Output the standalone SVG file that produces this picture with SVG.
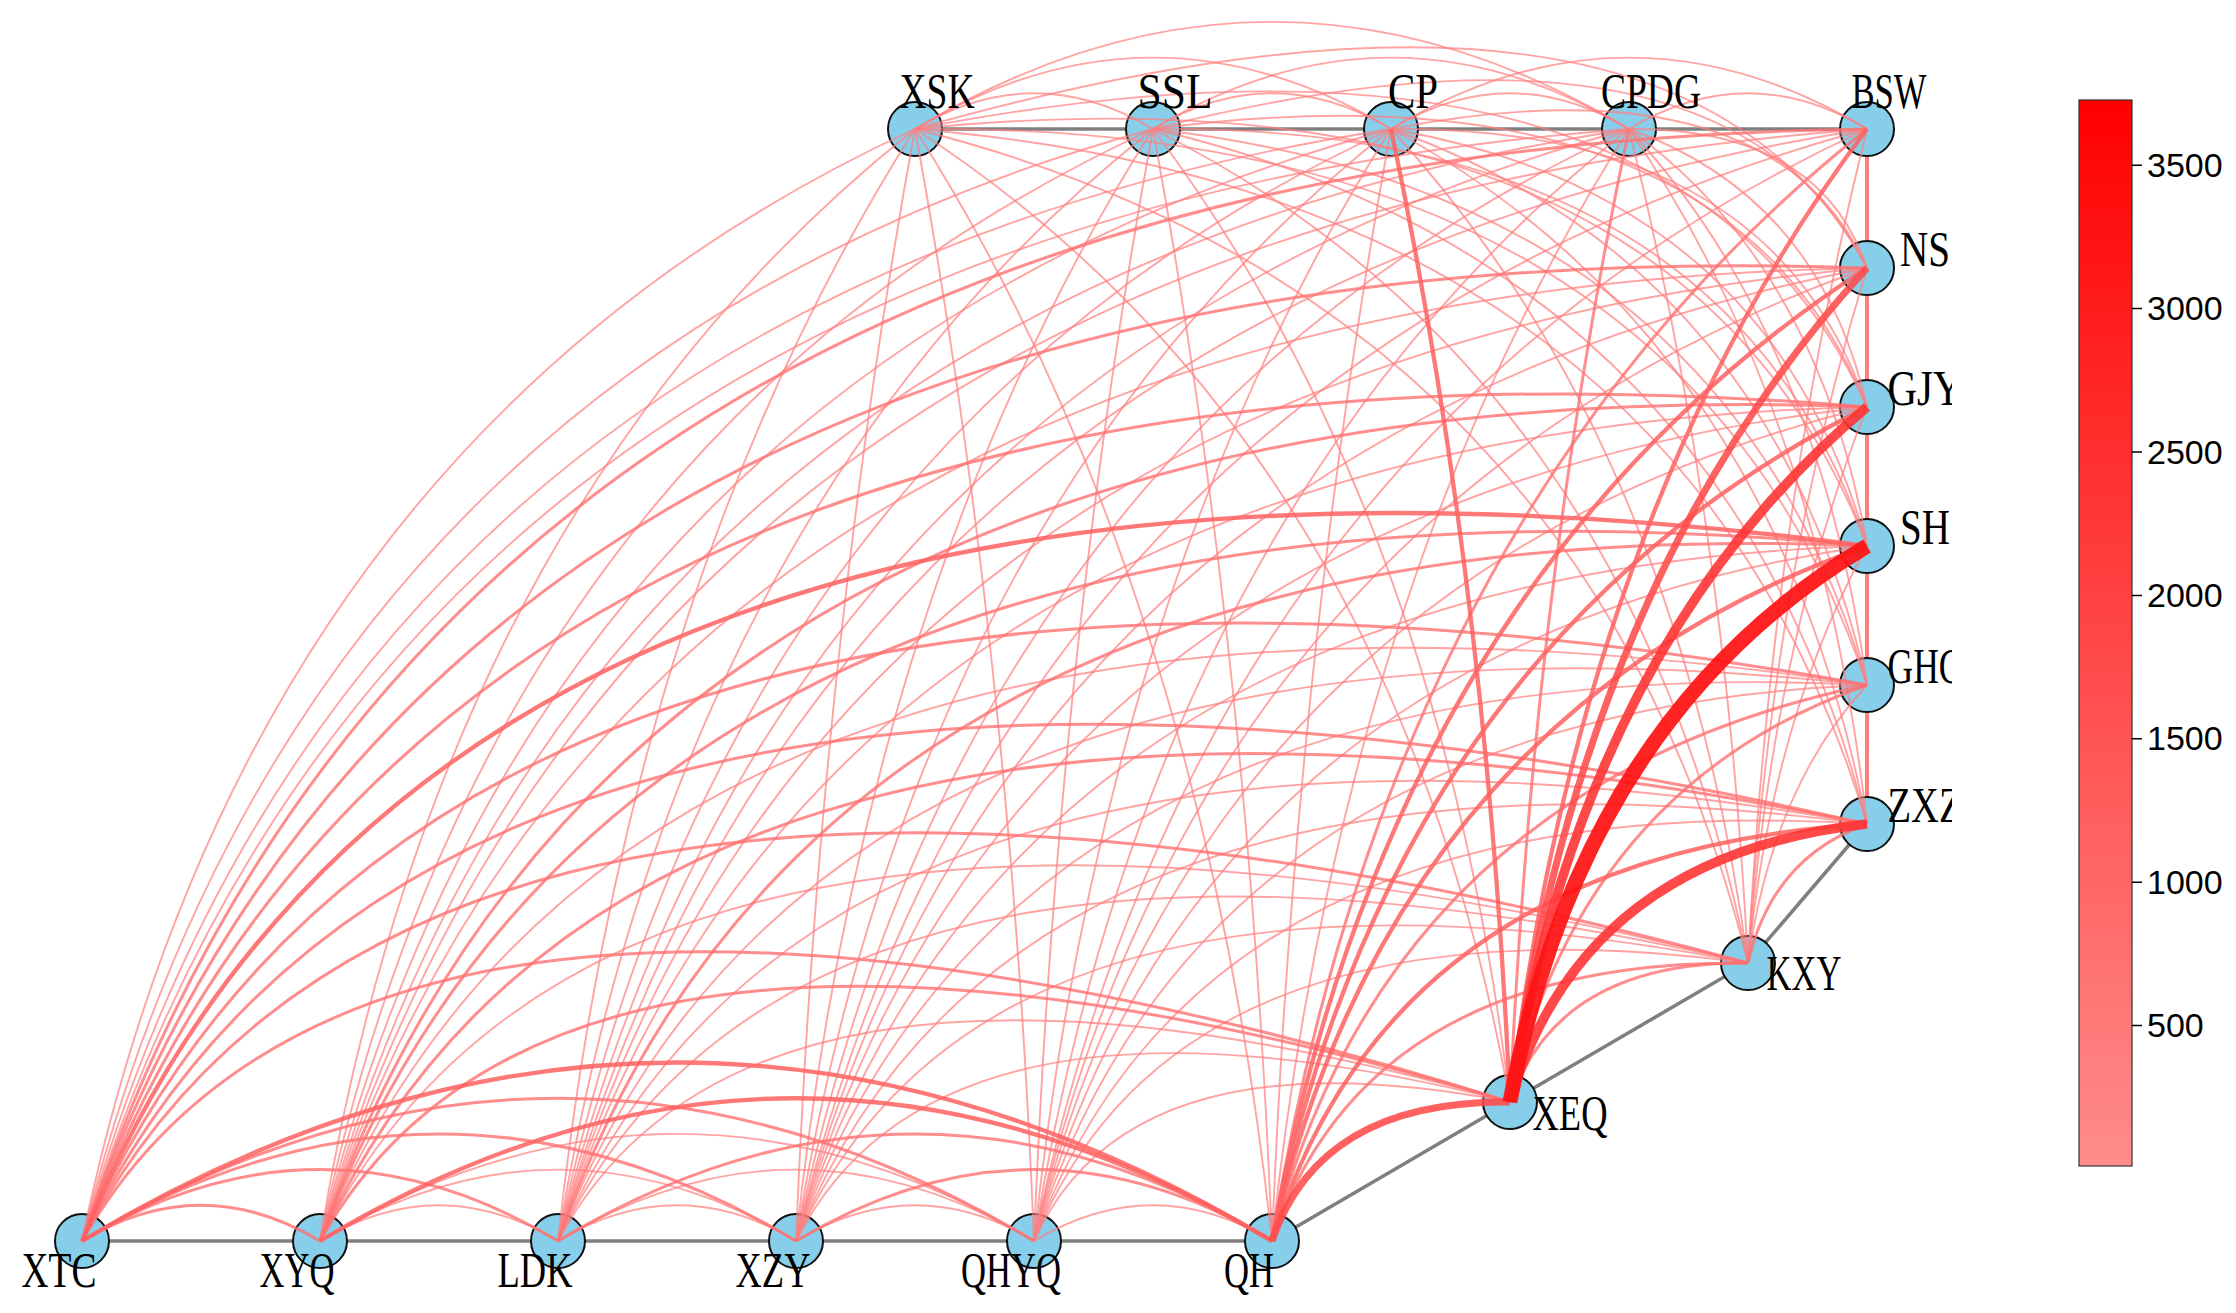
<svg xmlns="http://www.w3.org/2000/svg" width="2236" height="1313" viewBox="0 0 2236 1313">
<style>
.bg{fill:#fff}
.path{fill:none;stroke:#7f7f7f;stroke-width:3.5}
.col{fill:none;stroke:#ff7f7f;stroke-width:4}
#edges path{fill:none;stroke-linecap:butt}
.t1{stroke:#ff8080;stroke-width:1.9;stroke-opacity:.72}
.t2{stroke:#ff7070;stroke-width:3;stroke-opacity:.8}
.t3{stroke:#ff6060;stroke-width:4.3;stroke-opacity:.85}
.t4{stroke:#ff4a4a;stroke-width:7;stroke-opacity:.88}
.t5{stroke:#ff3434;stroke-width:9.5;stroke-opacity:.9}
.t6{stroke:#ff1212;stroke-width:15;stroke-opacity:.93}
.node circle{fill:#87ceeb;stroke:#111;stroke-width:2}
.lbl{font-family:"Liberation Serif",serif;font-size:50px;fill:#000;text-anchor:middle}
.tick{stroke:#000;stroke-width:1.5}
.tl{font-family:"Liberation Sans",Arial,sans-serif;font-size:34px;fill:#000}
</style>
<defs>
<linearGradient id="cmap" x1="0" y1="1" x2="0" y2="0">
<stop offset="0" stop-color="#ff8c8c"/>
<stop offset="1" stop-color="#ff0000"/>
</linearGradient>
<clipPath id="ax"><rect x="0" y="0" width="1952" height="1313"/></clipPath>
</defs>
<rect class="bg" width="2236" height="1313"/>
<g id="path-lines">
<path class="path" d="M82 1241H1272L1510 1102L1748 963L1867 824"/>
<path class="path" d="M1867 129H915"/>
<path class="col" d="M1867 824V129"/>
</g>
<g id="nodes">
<g id="n-XTC" class="node"><circle cx="82" cy="1241" r="27"/></g>
<g id="n-XYQ" class="node"><circle cx="320" cy="1241" r="27"/></g>
<g id="n-LDK" class="node"><circle cx="558" cy="1241" r="27"/></g>
<g id="n-XZY" class="node"><circle cx="796" cy="1241" r="27"/></g>
<g id="n-QHYQ" class="node"><circle cx="1034" cy="1241" r="27"/></g>
<g id="n-QH" class="node"><circle cx="1272" cy="1241" r="27"/></g>
<g id="n-XEQ" class="node"><circle cx="1510" cy="1102" r="27"/></g>
<g id="n-KXY" class="node"><circle cx="1748" cy="963" r="27"/></g>
<g id="n-ZXZ" class="node"><circle cx="1867" cy="824" r="27"/></g>
<g id="n-GHC" class="node"><circle cx="1867" cy="685" r="27"/></g>
<g id="n-SH" class="node"><circle cx="1867" cy="546" r="27"/></g>
<g id="n-GJY" class="node"><circle cx="1867" cy="407" r="27"/></g>
<g id="n-NS" class="node"><circle cx="1867" cy="268" r="27"/></g>
<g id="n-BSW" class="node"><circle cx="1867" cy="129" r="27"/></g>
<g id="n-CPDG" class="node"><circle cx="1629" cy="129" r="27"/></g>
<g id="n-CP" class="node"><circle cx="1391" cy="129" r="27"/></g>
<g id="n-SSL" class="node"><circle cx="1153" cy="129" r="27"/></g>
<g id="n-XSK" class="node"><circle cx="915" cy="129" r="27"/></g>
</g>
<g id="edges">
<g class="t1">
<path d="M82 1241Q248.6 435.1 915 129"/>
<path d="M82 1241Q296.2 363.7 1153 129"/>
<path d="M82 1241Q343.8 292.3 1391 129"/>
<path d="M82 1241Q391.4 220.9 1629 129"/>
<path d="M320 1241Q439 1169.6 558 1241"/>
<path d="M320 1241Q558 1098.2 796 1241"/>
<path d="M320 1241Q439 506.5 915 129"/>
<path d="M320 1241Q677 1026.8 1034 1241"/>
<path d="M320 1241Q486.6 435.1 1153 129"/>
<path d="M320 1241Q534.2 363.7 1391 129"/>
<path d="M320 1241Q581.8 292.3 1629 129"/>
<path d="M320 1241Q605.6 673.6 1748 963"/>
<path d="M320 1241Q629.4 498.9 1867 685"/>
<path d="M320 1241Q629.4 290.4 1867 268"/>
<path d="M320 1241Q629.4 220.9 1867 129"/>
<path d="M558 1241Q677 1169.6 796 1241"/>
<path d="M558 1241Q629.4 577.9 915 129"/>
<path d="M558 1241Q796 1098.2 1034 1241"/>
<path d="M558 1241Q677 506.5 1153 129"/>
<path d="M558 1241Q724.6 435.1 1391 129"/>
<path d="M558 1241Q748.4 885.9 1510 1102"/>
<path d="M558 1241Q772.2 363.7 1629 129"/>
<path d="M558 1241Q796 745 1748 963"/>
<path d="M558 1241Q819.8 639.8 1867 824"/>
<path d="M558 1241Q819.8 570.3 1867 685"/>
<path d="M558 1241Q819.8 431.3 1867 407"/>
<path d="M558 1241Q819.8 361.8 1867 268"/>
<path d="M558 1241Q819.8 292.3 1867 129"/>
<path d="M796 1241Q819.8 649.3 915 129"/>
<path d="M796 1241Q915 1169.6 1034 1241"/>
<path d="M796 1241Q867.4 577.9 1153 129"/>
<path d="M796 1241Q915 506.5 1391 129"/>
<path d="M796 1241Q938.8 957.3 1510 1102"/>
<path d="M796 1241Q962.6 435.1 1629 129"/>
<path d="M796 1241Q986.4 816.4 1748 963"/>
<path d="M796 1241Q1010.2 711.2 1867 824"/>
<path d="M796 1241Q1010.2 641.7 1867 685"/>
<path d="M796 1241Q1010.2 572.2 1867 546"/>
<path d="M796 1241Q1010.2 502.7 1867 407"/>
<path d="M796 1241Q1010.2 433.2 1867 268"/>
<path d="M796 1241Q1010.2 363.7 1867 129"/>
<path d="M915 129Q1010.2 649.3 1034 1241"/>
<path d="M915 129Q1034 57.6 1153 129"/>
<path d="M915 129Q1200.6 577.9 1272 1241"/>
<path d="M915 129Q1153 -13.8 1391 129"/>
<path d="M915 129Q1391 437 1510 1102"/>
<path d="M915 129Q1272 -85.2 1629 129"/>
<path d="M915 129Q1581.4 296.1 1748 963"/>
<path d="M915 129Q1676.6 190.9 1867 824"/>
<path d="M915 129Q1676.6 121.4 1867 685"/>
<path d="M915 129Q1676.6 51.9 1867 546"/>
<path d="M915 129Q1676.6 -17.6 1867 407"/>
<path d="M915 129Q1676.6 -87.1 1867 268"/>
<path d="M1034 1241Q1057.8 649.3 1153 129"/>
<path d="M1034 1241Q1153 1169.6 1272 1241"/>
<path d="M1034 1241Q1105.4 577.9 1391 129"/>
<path d="M1034 1241Q1129.2 1028.7 1510 1102"/>
<path d="M1034 1241Q1153 506.5 1629 129"/>
<path d="M1034 1241Q1176.8 887.8 1748 963"/>
<path d="M1034 1241Q1200.6 782.6 1867 824"/>
<path d="M1034 1241Q1200.6 713.1 1867 685"/>
<path d="M1034 1241Q1200.6 643.6 1867 546"/>
<path d="M1034 1241Q1200.6 574.1 1867 407"/>
<path d="M1034 1241Q1200.6 504.6 1867 268"/>
<path d="M1034 1241Q1200.6 435.1 1867 129"/>
<path d="M1153 129Q1248.2 649.3 1272 1241"/>
<path d="M1153 129Q1272 57.6 1391 129"/>
<path d="M1153 129Q1438.6 508.4 1510 1102"/>
<path d="M1153 129Q1391 -13.8 1629 129"/>
<path d="M1153 129Q1629 367.5 1748 963"/>
<path d="M1153 129Q1724.2 262.3 1867 824"/>
<path d="M1153 129Q1724.2 192.8 1867 685"/>
<path d="M1153 129Q1724.2 123.3 1867 546"/>
<path d="M1153 129Q1724.2 53.8 1867 407"/>
<path d="M1153 129Q1724.2 -15.7 1867 268"/>
<path d="M1272 1241Q1295.8 649.3 1391 129"/>
<path d="M1272 1241Q1343.4 577.9 1629 129"/>
<path d="M1391 129Q1510 57.6 1629 129"/>
<path d="M1391 129Q1676.6 438.9 1748 963"/>
<path d="M1391 129Q1771.8 333.7 1867 824"/>
<path d="M1391 129Q1771.8 264.2 1867 685"/>
<path d="M1391 129Q1771.8 194.7 1867 546"/>
<path d="M1391 129Q1771.8 125.2 1867 407"/>
<path d="M1391 129Q1771.8 55.7 1867 268"/>
<path d="M1391 129Q1629 -13.8 1867 129"/>
<path d="M1629 129Q1724.2 510.3 1748 963"/>
<path d="M1629 129Q1819.4 405.1 1867 824"/>
<path d="M1629 129Q1819.4 335.6 1867 685"/>
<path d="M1629 129Q1819.4 266.1 1867 546"/>
<path d="M1629 129Q1819.4 196.6 1867 407"/>
<path d="M1629 129Q1819.4 127.1 1867 268"/>
<path d="M1629 129Q1748 57.6 1867 129"/>
<path d="M1748 963Q1771.8 788.3 1867 685"/>
<path d="M1748 963Q1771.8 718.8 1867 546"/>
<path d="M1748 963Q1771.8 649.3 1867 407"/>
<path d="M1748 963Q1771.8 579.8 1867 268"/>
<path d="M1748 963Q1771.8 510.3 1867 129"/>
</g>
<g class="t2">
<path d="M82 1241Q201 1169.6 320 1241"/>
<path d="M82 1241Q320 1098.2 558 1241"/>
<path d="M82 1241Q439 1026.8 796 1241"/>
<path d="M82 1241Q558 955.4 1034 1241"/>
<path d="M82 1241Q367.6 743.1 1510 1102"/>
<path d="M82 1241Q415.2 602.2 1748 963"/>
<path d="M82 1241Q439 497 1867 824"/>
<path d="M82 1241Q439 427.5 1867 685"/>
<path d="M82 1241Q439 288.5 1867 407"/>
<path d="M82 1241Q439 219 1867 268"/>
<path d="M82 1241Q439 149.5 1867 129"/>
<path d="M320 1241Q558 814.5 1510 1102"/>
<path d="M320 1241Q629.4 568.4 1867 824"/>
<path d="M320 1241Q629.4 429.4 1867 546"/>
<path d="M320 1241Q629.4 359.9 1867 407"/>
<path d="M558 1241Q915 1026.8 1272 1241"/>
<path d="M558 1241Q819.8 500.8 1867 546"/>
<path d="M796 1241Q1034 1098.2 1272 1241"/>
<path d="M1272 1241Q1367.2 959.2 1748 963"/>
<path d="M1272 1241Q1391 784.5 1867 685"/>
<path d="M1272 1241Q1391 506.5 1867 129"/>
<path d="M1510 1102Q1533.8 579.8 1629 129"/>
<path d="M1510 1102Q1557.6 961.1 1748 963"/>
<path d="M1510 1102Q1581.4 786.4 1867 685"/>
<path d="M1748 963Q1771.8 857.8 1867 824"/>
</g>
<g class="t3">
<path d="M82 1241Q677 884 1272 1241"/>
<path d="M82 1241Q439 358 1867 546"/>
<path d="M320 1241Q796 955.4 1272 1241"/>
<path d="M1272 1241Q1391 854 1867 824"/>
<path d="M1272 1241Q1391 715 1867 546"/>
<path d="M1272 1241Q1391 645.5 1867 407"/>
<path d="M1272 1241Q1391 576 1867 268"/>
<path d="M1391 129Q1486.2 579.8 1510 1102"/>
<path d="M1510 1102Q1581.4 508.4 1867 129"/>
</g>
<g class="t4">
<path d="M1272 1241Q1319.6 1100.1 1510 1102"/>
<path d="M1510 1102Q1581.4 577.9 1867 268"/>
</g>
<g class="t5">
<path d="M1510 1102Q1581.4 855.9 1867 824"/>
<path d="M1510 1102Q1581.4 647.4 1867 407"/>
</g>
<g class="t6">
<path d="M1510 1102Q1581.4 716.9 1867 546"/>
</g>
</g>
<g id="labels" clip-path="url(#ax)">
<text class="lbl" x="59" y="1287" textLength="75" lengthAdjust="spacingAndGlyphs">XTC</text>
<text class="lbl" x="297" y="1287" textLength="75" lengthAdjust="spacingAndGlyphs">XYQ</text>
<text class="lbl" x="535" y="1287" textLength="75" lengthAdjust="spacingAndGlyphs">LDK</text>
<text class="lbl" x="773" y="1287" textLength="75" lengthAdjust="spacingAndGlyphs">XZY</text>
<text class="lbl" x="1011" y="1287" textLength="100" lengthAdjust="spacingAndGlyphs">QHYQ</text>
<text class="lbl" x="1249" y="1287" textLength="50" lengthAdjust="spacingAndGlyphs">QH</text>
<text class="lbl" x="1570" y="1130" textLength="75" lengthAdjust="spacingAndGlyphs">XEQ</text>
<text class="lbl" x="1804" y="990" textLength="75" lengthAdjust="spacingAndGlyphs">KXY</text>
<text class="lbl" x="1925" y="822" textLength="75" lengthAdjust="spacingAndGlyphs">ZXZ</text>
<text class="lbl" x="1925" y="683" textLength="75" lengthAdjust="spacingAndGlyphs">GHC</text>
<text class="lbl" x="1925" y="544" textLength="50" lengthAdjust="spacingAndGlyphs">SH</text>
<text class="lbl" x="1925" y="405" textLength="75" lengthAdjust="spacingAndGlyphs">GJY</text>
<text class="lbl" x="1925" y="266" textLength="50" lengthAdjust="spacingAndGlyphs">NS</text>
<text class="lbl" x="1889" y="108" textLength="75" lengthAdjust="spacingAndGlyphs">BSW</text>
<text class="lbl" x="1651" y="108" textLength="100" lengthAdjust="spacingAndGlyphs">CPDG</text>
<text class="lbl" x="1413" y="108" textLength="50" lengthAdjust="spacingAndGlyphs">CP</text>
<text class="lbl" x="1175" y="108" textLength="75" lengthAdjust="spacingAndGlyphs">SSL</text>
<text class="lbl" x="937" y="108" textLength="75" lengthAdjust="spacingAndGlyphs">XSK</text>
</g>
<g id="colorbar">
<rect x="2079" y="100" width="53" height="1066" fill="url(#cmap)" stroke="#333" stroke-width="1.2"/>
<path class="tick" d="M2132 165.2h10M2132 308.6h10M2132 452h10M2132 595.4h10M2132 738.8h10M2132 882.2h10M2132 1025.6h10"/>
<text class="tl" x="2147" y="177">3500</text>
<text class="tl" x="2147" y="320">3000</text>
<text class="tl" x="2147" y="464">2500</text>
<text class="tl" x="2147" y="607">2000</text>
<text class="tl" x="2147" y="750">1500</text>
<text class="tl" x="2147" y="894">1000</text>
<text class="tl" x="2147" y="1037">500</text>
</g>
</svg>
